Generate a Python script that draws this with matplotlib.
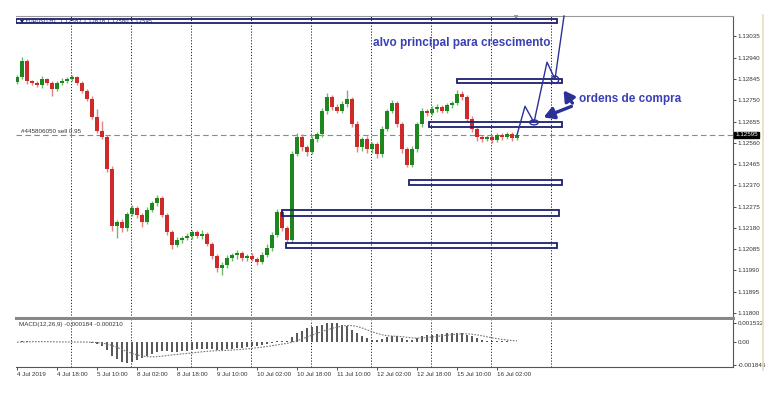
import numpy as np
import matplotlib
matplotlib.use("Agg")
import matplotlib.pyplot as plt
from matplotlib.patches import Rectangle, Ellipse
from matplotlib.lines import Line2D
import matplotlib.transforms as mtransforms

plt.rcParams['font.family'] = ['Liberation Sans', 'DejaVu Sans']

# ---------------- data (EURUSD, 2-hour bars) ----------------
first_open = 1.12830
closes = [
    1.12853, 1.12924, 1.12835, 1.12826, 1.12817, 1.12844, 1.12826, 1.12799, 1.12826, 1.12835,
    1.12844, 1.12853, 1.12826, 1.12790, 1.12754, 1.12674, 1.12611, 1.12584, 1.12441, 1.12190,
    1.12208, 1.12181, 1.12244, 1.12270, 1.12239, 1.12208, 1.12261, 1.12293, 1.12315, 1.12239,
    1.12163, 1.12105, 1.12127, 1.12136, 1.12145, 1.12163, 1.12145, 1.12154, 1.12109, 1.12055,
    1.12002, 1.12015, 1.12046, 1.12060, 1.12069, 1.12046, 1.12055, 1.12042, 1.12028, 1.12060,
    1.12091, 1.12149, 1.12252, 1.12181, 1.12127, 1.12508, 1.12584, 1.12539, 1.12521, 1.12575,
    1.12597, 1.12700, 1.12763, 1.12718, 1.12700, 1.12732, 1.12754, 1.12642, 1.12539, 1.12575,
    1.12530, 1.12553, 1.12508, 1.12620, 1.12700, 1.12736, 1.12642, 1.12530, 1.12463, 1.12530,
    1.12642, 1.12700, 1.12692, 1.12709, 1.12718, 1.12700, 1.12727, 1.12736, 1.12777, 1.12763,
    1.12665, 1.12620, 1.12584, 1.12575, 1.12584, 1.12571, 1.12593, 1.12584, 1.12597, 1.12580,
    1.12595,
]
# wick lengths in pips above / below the body
wick_up = [
    2, 4, 2, 1, 2, 3, 1, 2, 2, 3,
    2, 2, 1, 2, 2, 3, 8, 10, 2, 3,
    2, 3, 2, 3, 2, 2, 3, 2, 3, 2,
    2, 2, 3, 2, 3, 2, 2, 4, 2, 2,
    2, 3, 3, 2, 3, 2, 2, 3, 2, 3,
    4, 3, 3, 2, 2, 3, 4, 3, 2, 3,
    2, 3, 4, 2, 3, 3, 9, 2, 3, 2,
    3, 2, 2, 3, 2, 3, 2, 2, 2, 3,
    2, 3, 2, 3, 3, 2, 2, 2, 4, 3,
    2, 3, 2, 2, 2, 2, 2, 2, 2, 2,
    1,
]
wick_dn = [
    2, 2, 3, 2, 2, 3, 2, 7, 2, 2,
    2, 2, 2, 2, 2, 2, 2, 2, 3, 5,
    12, 4, 3, 2, 3, 5, 2, 2, 3, 2,
    3, 4, 2, 3, 2, 3, 2, 3, 2, 3,
    4, 7, 3, 3, 4, 3, 3, 2, 3, 2,
    2, 3, 2, 3, 2, 2, 2, 3, 4, 2,
    3, 2, 3, 3, 2, 2, 3, 3, 4, 3,
    3, 3, 4, 3, 2, 2, 3, 3, 2, 2,
    2, 3, 3, 2, 3, 2, 2, 3, 2, 3,
    3, 3, 4, 3, 2, 3, 2, 3, 2, 3,
    2,
]
# MACD(12,26,9) main histogram and signal, units of 1e-4
macd_main = [
    0.3, 0.5, 0.6, 0.4, 0.3, 0.2, 0.1, 0.0, -0.1, -0.1,
    0.0, 0.1, 0.1, -0.1, -0.4, -1.0, -2.0, -3.5, -6.5, -11,
    -14, -16.5, -17, -16, -14.5, -13, -11, -9.5, -8, -7.5,
    -7.5, -8, -8, -7.5, -7, -6.5, -6, -5.5, -5.5, -6,
    -6.5, -6.5, -6, -5.5, -5, -4.5, -4, -3.5, -3, -2.5,
    -2, -1, 0.5, 1.0, 0.5, 4, 7, 9, 11, 12,
    13, 14, 15, 15.5, 15, 14, 13, 10, 7, 5,
    3, 2, 1.5, 2.5, 4, 5, 4.5, 3, 1.5, 1.5,
    3, 4.5, 5.5, 6, 6.5, 6.5, 7, 7, 7.5, 7.5,
    6, 4.5, 3, 2, 1, 0.5, 0.5, 0.5, 0.5, 0.3,
    0.3,
]
macd_signal = [
    -0.1, 0, 0.1, 0.2, 0.3, 0.3, 0.3, 0.2, 0.1, 0.0,
    0, 0, 0, 0, -0.1, -0.2, -0.5, -0.9, -1.6, -2.8,
    -4.3, -6, -7.7, -9.2, -10.4, -11.3, -11.8, -12, -11.8, -11.4,
    -10.9, -10.4, -10, -9.6, -9.2, -8.8, -8.4, -7.9, -7.5, -7.2,
    -7, -6.9, -6.7, -6.5, -6.2, -5.9, -5.5, -5.1, -4.6, -4.1,
    -3.6, -3, -2.4, -1.7, -1.1, -0.2, 1, 2.4, 4, 5.5,
    7, 8.5, 9.8, 11, 12, 12.8, 13.3, 13.2, 12.5, 11.3,
    9.8, 8.3, 6.9, 5.8, 5.1, 4.8, 4.6, 4.3, 3.8, 3.3,
    3.1, 3.3, 3.6, 4, 4.5, 5, 5.5, 5.9, 6.3, 6.6,
    6.6, 6.3, 5.7, 5, 4.2, 3.4, 2.7, 2.1, 1.6, 1.2,
    0.9,
]

date_labels = ['4 Jul 2019', '4 Jul 18:00', '5 Jul 10:00', '8 Jul 02:00', '8 Jul 18:00',
               '9 Jul 10:00', '10 Jul 02:00', '10 Jul 18:00', '11 Jul 10:00', '12 Jul 02:00',
               '12 Jul 18:00', '15 Jul 10:00', '16 Jul 02:00']
price_ticks = [1.13035, 1.12940, 1.12845, 1.12750, 1.12655, 1.12560, 1.12465,
               1.12370, 1.12275, 1.12180, 1.12085, 1.11990, 1.11895, 1.11800]
macd_ticks = [0.001532, 0.0, -0.001846]
macd_tick_labels = ['0.001532', '0.00', '-0.001846']

sell_price = 1.12595
last_price = 1.12595

# drawn zones: (start bar, end bar, low, high)
zone_start = [-0.2, 88.0, 82.4, 78.4, 53.0, 53.8]
zone_end = [108.0, 109.0, 109.0, 109.0, 108.4, 108.0]
zone_low = [1.13094, 1.12826, 1.12629, 1.12373, 1.12235, 1.12091]
zone_high = [1.13112, 1.12844, 1.12651, 1.12396, 1.12261, 1.12114]

# projected path
path_bar = [100, 101.6, 103.4, 106.0, 107.6, 109.4]
path_price = [1.12595, 1.12723, 1.12651, 1.12920, 1.12844, 1.13126]

# ---------------- layout ----------------
W, H = 781, 400
fig = plt.figure(figsize=(W / 100, H / 100), dpi=100)
fig.patch.set_facecolor('white')

left, right = 16, 733
ax = fig.add_axes([left / W, 1 - 318 / H, (right - left) / W, (318 - 16) / H])
ax2 = fig.add_axes([left / W, 1 - 367 / H, (right - left) / W, (367 - 320) / H], sharex=ax)

n = len(closes)
idx = np.arange(n)
c = np.array(closes)
o = np.r_[first_open, c[:-1]]
hi = np.maximum(o, c) + np.array(wick_up) * 1e-4 * 0.45
lo = np.minimum(o, c) - np.array(wick_dn) * 1e-4 * 0.45

up = c >= o
bull, bear = '#1d861d', '#cf2a2a'
bull_w, bear_w = '#6fb86f', '#e08484'

ax.vlines(idx[up], lo[up], hi[up], color=bull_w, lw=1.0, zorder=2)
ax.vlines(idx[~up], lo[~up], hi[~up], color=bear_w, lw=1.0, zorder=2)
body = np.maximum(np.abs(c - o), 0.00003)
ax.bar(idx[up], body[up], bottom=np.minimum(o, c)[up], width=0.62, color=bull, lw=0, zorder=3)
ax.bar(idx[~up], body[~up], bottom=np.minimum(o, c)[~up], width=0.62, color=bear, lw=0, zorder=3)

ax.set_xlim(-0.2, 143.2)
ax.set_ylim(1.117776, 1.131261)

# day separators
for a in (ax, ax2):
    for d in np.arange(10.8, 115, 12):
        a.axvline(d, color='#222222', lw=0.7, ls=(0, (1.2, 1.8)), zorder=1)

# sell order line
ax.axhline(sell_price, color='#6e9a80', lw=0.8, ls=(0, (5, 3)), zorder=1)
ax.text(0.8, sell_price + 0.00004, '#445806050 sell 0.95', fontsize=4.5, color='#333333',
        va='bottom', ha='left')

navy = '#1c206e'
for x0, x1, l, h in zip(zone_start, zone_end, zone_low, zone_high):
    ax.add_patch(Rectangle((x0, l), x1 - x0, h - l, fill=False, ec=navy, lw=1.3, zorder=5))

ax.plot(path_bar, path_price, color='#2b3196', lw=1.0, zorder=6, clip_on=False)
ax.add_patch(Ellipse((103.4, 1.12651), 1.7, 0.00022, fill=False, ec='#2b3196', lw=1.0, zorder=6))
ax.add_patch(Ellipse((107.6, 1.12842), 1.5, 0.00032, fill=False, ec='#2b3196', lw=1.0, zorder=6))

arrow_kw = dict(arrowstyle='-|>,head_length=0.6,head_width=0.35', color='#2b3196', lw=2.4)
ax.annotate('', xy=(109.0, 1.12804), xytext=(111.4, 1.12727), arrowprops=arrow_kw, zorder=7)
ax.annotate('', xy=(104.8, 1.12669), xytext=(111.4, 1.12727), arrowprops=arrow_kw, zorder=7)

ax.text(71.2, 1.13005, 'alvo principal para crescimento', fontsize=8.5, fontweight='bold',
        color='#3a3fb5', va='center', ha='left', zorder=8)
ax.text(112.4, 1.12754, 'ordens de compra', fontsize=8.5, fontweight='bold',
        color='#3a3fb5', va='center', ha='left', zorder=8)

ax.text(0.6, 1.13103, '\u25bc EURUSD,H1  1.12587 1.12618 1.12580 1.12595', fontsize=3.8,
        color=navy, va='center', ha='left', zorder=9, family=['DejaVu Sans'])
ax.text(99.8, 1.13120, '\u25bc', fontsize=4, color='#8a8a8a', ha='center', va='center',
        family=['DejaVu Sans'])

# price axis on the right
ax.yaxis.tick_right()
ax.set_yticks(price_ticks)
ax.set_yticklabels([f'{p:.5f}' for p in price_ticks])
ax.tick_params(axis='y', labelsize=4.5, length=2, width=0.6, pad=1.5, colors='#333333')
ax.tick_params(axis='x', bottom=False, labelbottom=False)
trans = mtransforms.blended_transform_factory(ax.transAxes, ax.transData)
ax.text(1.003, last_price, f'{last_price:.5f}', transform=trans, fontsize=4.5, color='white',
        va='center', ha='left', bbox=dict(boxstyle='square,pad=0.15', fc='black', ec='black'))

ax.spines['left'].set_visible(False)
ax.spines['top'].set_color('#9a9a9a')
ax.spines['top'].set_linewidth(0.8)
ax.spines['right'].set_color('#555555')
ax.spines['right'].set_linewidth(0.8)
ax.spines['bottom'].set_color('#888888')
ax.spines['bottom'].set_linewidth(2.2)

# ---------------- MACD ----------------
mm = np.array(macd_main) * 1e-4
ms = np.array(macd_signal) * 1e-4
ax2.bar(idx, mm, width=0.45, color='#5a5a5a', lw=0, zorder=2)
ax2.plot(idx, ms, color='#777777', lw=0.8, ls=(0, (1.5, 1.2)), zorder=3)
ax2.set_ylim(-0.002015, 0.001773)
ax2.yaxis.tick_right()
ax2.set_yticks(macd_ticks)
ax2.set_yticklabels(macd_tick_labels)
ax2.tick_params(axis='y', labelsize=4.5, length=2, width=0.6, pad=1.5, colors='#333333')
ax2.text(0.4, 0.0014, 'MACD(12,26,9) -0.000184 -0.000210', fontsize=4.5, color='#333333',
         va='center', ha='left')

tick_pos = np.arange(len(date_labels)) * 8
ax2.set_xticks(tick_pos)
ax2.set_xticklabels(date_labels, ha='left')
ax2.tick_params(axis='x', labelsize=4.5, length=2, width=0.6, pad=1.5, colors='#333333')
ax2.spines['top'].set_visible(False)
ax2.spines['left'].set_visible(False)
ax2.spines['right'].set_color('#555555')
ax2.spines['right'].set_linewidth(0.8)
ax2.spines['bottom'].set_color('#555555')
ax2.spines['bottom'].set_linewidth(0.8)

fig.add_artist(Line2D([763 / W, 763 / W], [1 - 15 / H, 1 - 370 / H], color='#eadcc0', lw=1.2))

fig.savefig('out.png', dpi=100, facecolor='white')
